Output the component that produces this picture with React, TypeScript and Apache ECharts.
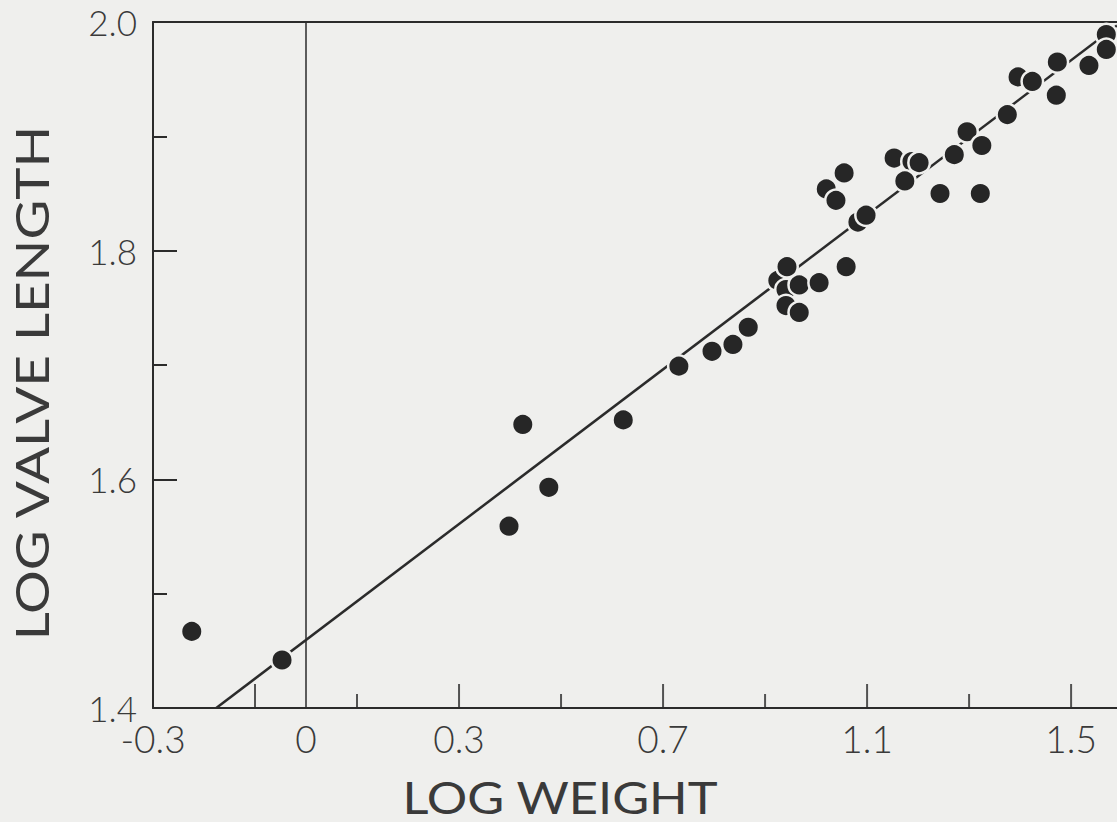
import React, { useEffect, useRef } from "react";
import * as echarts from "echarts";

// ---- data ----
const logWeight = [
  -0.224, -0.047, 0.398, 0.425, 0.476, 0.622, 0.731, 0.796, 0.837, 0.867,
  0.925, 0.943, 0.941, 0.967, 0.941, 0.967, 1.006, 1.059, 1.02, 1.039,
  1.055, 1.082, 1.098, 1.153, 1.188, 1.202, 1.174, 1.243, 1.271, 1.296,
  1.322, 1.325, 1.375, 1.396, 1.424, 1.473, 1.471, 1.535, 1.569, 1.569,
];
const logValveLength = [
  1.467, 1.442, 1.559, 1.648, 1.593, 1.652, 1.699, 1.712, 1.718, 1.733,
  1.774, 1.786, 1.766, 1.77, 1.752, 1.746, 1.772, 1.786, 1.854, 1.844,
  1.868, 1.825, 1.831, 1.881, 1.878, 1.877, 1.861, 1.85, 1.884, 1.904,
  1.85, 1.892, 1.919, 1.952, 1.948, 1.965, 1.936, 1.962, 1.989, 1.976,
];
const fitX = [-0.176, 1.59];
const fitY = [1.4, 1.997];

const xLabelValues = [-0.3, 0, 0.3, 0.7, 1.1, 1.5];
const xMajorTicks = [-0.1, 0.3, 0.7, 1.1, 1.5];
const xMinorTicks = [0.1, 0.5, 0.9, 1.3];
const yLabelValues = [1.4, 1.6, 1.8, 2.0];

const xTitle = "LOG WEIGHT";
const yTitle = "LOG VALVE LENGTH";

const BG = "#efefed";
const INK = "#2b2b2b";
const TXT = "#3a3a3a";
const FONT = "Lato, 'DejaVu Sans', sans-serif";

export default function App() {
  const ref = useRef<HTMLDivElement>(null);
  useEffect(() => {
    if (!ref.current) return;
    const chart = echarts.init(ref.current, null, { renderer: "svg" });
    const xMin = -0.3;
    const xMax = 1.59;
    chart.setOption({
      animation: false,
      backgroundColor: BG,
      grid: { left: 153, top: 22, right: 0, bottom: 114, containLabel: false, outerBoundsMode: "none" },
      xAxis: [
        {
          type: "value",
          min: xMin,
          max: xMax,
          interval: 0.1,
          axisLine: { show: true, onZero: false, lineStyle: { color: INK, width: 2 } },
          axisTick: { show: false },
          splitLine: { show: false },
          axisLabel: {
            margin: 15,
            color: TXT,
            fontFamily: FONT,
            fontWeight: 300,
            fontSize: 37,
            lineHeight: 30,
            formatter: (v: number) => {
              const r = Math.round(v * 10) / 10;
              return xLabelValues.some((t) => Math.abs(t - v) < 1e-6) ? String(r === 0 ? 0 : r) : "";
            },
          },
        },
        {
          type: "value",
          position: "top",
          min: xMin,
          max: xMax,
          axisLine: { show: true, onZero: false, lineStyle: { color: INK, width: 2 } },
          axisTick: { show: false },
          axisLabel: { show: false },
          splitLine: { show: false },
        },
      ],
      yAxis: {
        type: "value",
        min: 1.4,
        max: 2.0,
        interval: 0.2,
        axisLine: { show: true, onZero: false, lineStyle: { color: INK, width: 2 } },
        axisTick: { show: true, inside: true, length: 24, lineStyle: { color: INK, width: 2 } },
        minorTick: { show: true, splitNumber: 2, length: 14, lineStyle: { color: INK, width: 2 } },
        splitLine: { show: false },
        axisLabel: {
          margin: 16,
          color: TXT,
          fontFamily: FONT,
          fontWeight: 300,
          fontSize: 35,
          lineHeight: 24,
          formatter: (v: number) =>
            yLabelValues.some((t) => Math.abs(t - v) < 1e-6) ? v.toFixed(1) : "",
        },
      },
      series: [
        {
          type: "line",
          data: fitX.map((x, i) => [x, fitY[i]]),
          symbol: "none",
          lineStyle: { color: INK, width: 2.5 },
          z: 2,
          silent: true,
          markLine: {
            silent: true,
            symbol: ["none", "none"],
            label: { show: false },
            lineStyle: { color: INK, width: 1.5, type: "solid" },
            data: [{ xAxis: 0 }],
          },
        },
        {
          type: "scatter",
          data: logWeight.map((x, i) => [x, logValveLength[i]]),
          symbol: "circle",
          symbolSize: 21.5,
          itemStyle: { color: "#262626", borderColor: BG, borderWidth: 2.5, opacity: 1 },
          z: 3,
          clip: false,
        },
        {
          type: "scatter",
          data: xMajorTicks.map((x) => [x, 1.4]),
          symbol: "rect",
          symbolSize: [2, 24],
          symbolOffset: [0, -12],
          itemStyle: { color: INK },
          clip: false,
          silent: true,
          z: 2,
        },
        {
          type: "scatter",
          data: xMinorTicks.map((x) => [x, 1.4]),
          symbol: "rect",
          symbolSize: [2, 14],
          symbolOffset: [0, -7],
          itemStyle: { color: INK },
          clip: false,
          silent: true,
          z: 2,
        },
      ],
      graphic: [
        {
          type: "text",
          x: 560,
          y: 797,
          scaleX: 1.15,
          style: {
            text: xTitle,
            fill: TXT,
            fontFamily: FONT,
            fontWeight: 400,
            fontSize: 44,
            align: "center",
            verticalAlign: "middle",
            textAlign: "center",
            textVerticalAlign: "middle",
          },
        },
        {
          type: "text",
          x: 31,
          y: 383,
          rotation: Math.PI / 2,
          scaleX: 1.19,
          style: {
            text: yTitle,
            fill: TXT,
            fontFamily: FONT,
            fontWeight: 400,
            fontSize: 46,
            align: "center",
            verticalAlign: "middle",
            textAlign: "center",
            textVerticalAlign: "middle",
          },
        },
      ],
    });
    return () => chart.dispose();
  }, []);
  return (
    <div
      ref={ref}
      style={{ position: "fixed", left: 0, top: 0, width: 1117, height: 822 }}
    />
  );
}
